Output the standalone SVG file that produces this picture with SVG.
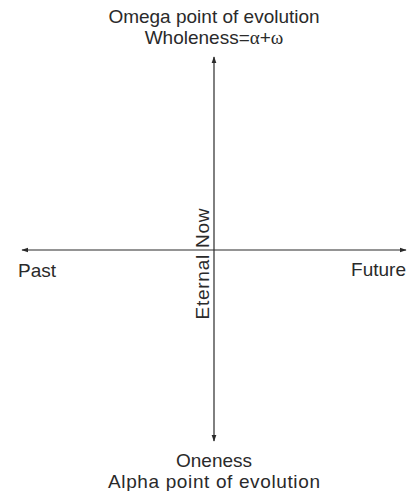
<svg xmlns="http://www.w3.org/2000/svg" width="419" height="491" viewBox="0 0 419 491">
<style>
text{font-family:"Liberation Sans",Arial,sans-serif;font-size:19px;fill:#2a2a2a}
.g{font-family:"Liberation Serif","Times New Roman",serif}
.ax{stroke:#2a2a2a;stroke-width:1.2;fill:none}
</style>
<defs>
<marker id="ah" viewBox="0 0 10 10" refX="9" refY="5" markerWidth="7" markerHeight="7" orient="auto" markerUnits="userSpaceOnUse">
<path d="M0,1.5 L10,5 L0,8.5 z" fill="#2a2a2a"/>
</marker>
</defs>
<g id="connectors">
<line class="ax" x1="214" y1="250" x2="214" y2="57" marker-end="url(#ah)"/>
<line class="ax" x1="214" y1="250" x2="214" y2="441" marker-end="url(#ah)"/>
<line class="ax" x1="214" y1="250" x2="22" y2="250" marker-end="url(#ah)"/>
<line class="ax" x1="214" y1="250" x2="406" y2="250" marker-end="url(#ah)"/>
</g>
<g id="omega">
<text x="214" y="23" text-anchor="middle">Omega point of evolution</text>
<text x="214" y="44" text-anchor="middle">Wholeness=<tspan class="g">α</tspan>+<tspan class="g">ω</tspan></text>
</g>
<g id="past"><text x="18" y="277">Past</text></g>
<g id="future"><text x="406" y="276" text-anchor="end">Future</text></g>
<g id="now"><text transform="translate(209,264) rotate(-90)" text-anchor="middle" textLength="111" lengthAdjust="spacing">Eternal Now</text></g>
<g id="alpha">
<text x="214" y="467" text-anchor="middle">Oneness</text>
<text x="214" y="487.5" text-anchor="middle" textLength="212" lengthAdjust="spacing">Alpha point of evolution</text>
</g>
</svg>
